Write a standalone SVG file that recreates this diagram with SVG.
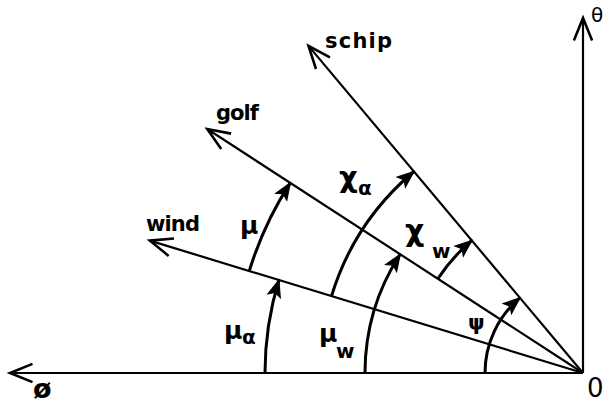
<svg xmlns="http://www.w3.org/2000/svg" width="604" height="403" viewBox="0 0 604 403">
<style>
.ax{stroke:#000;stroke-width:2.2;fill:none}
.arc{stroke:#000;stroke-width:3;fill:none}
text{font-family:"DejaVu Sans","Liberation Sans",sans-serif;fill:#000;font-weight:bold}
.thin{font-weight:normal}
.lbl{font-size:21px}
.gr{font-size:25px}
.sub{font-size:20px}
</style>
<defs>
<marker id="open" markerUnits="userSpaceOnUse" markerWidth="30" markerHeight="30" viewBox="-24 -12 28 24" refX="0" refY="0" orient="auto">
<path d="M-21,-8.5 L0,0 L-21,8.5" fill="none" stroke="#000" stroke-width="2.4"/>
</marker>
<marker id="solid" markerUnits="userSpaceOnUse" markerWidth="20" markerHeight="20" viewBox="-15 -8 17 16" refX="0" refY="0" orient="auto">
<path d="M-14,-5.5 L0,0 L-14,5.5 L-11,0 Z" fill="#000" stroke="#000" stroke-width="1"/>
</marker>
</defs>
<rect width="604" height="403" fill="#fff"/>
<g id="connectors">
<line id="axis-phi" class="ax" x1="583" y1="373" x2="10" y2="373" marker-end="url(#open)"/>
<line id="axis-theta" class="ax" x1="583" y1="373" x2="583" y2="18" marker-end="url(#open)"/>
<line id="wind-line" class="ax" x1="583" y1="373" x2="149.8" y2="240.6" marker-end="url(#open)"/>
<line id="golf-line" class="ax" x1="583" y1="373" x2="207.3" y2="129" marker-end="url(#open)"/>
<line id="schip-line" class="ax" x1="583" y1="373" x2="308.5" y2="45.9" marker-end="url(#open)"/>
<path id="arc-psi" class="arc" d="M485,373 A98,98 0 0 1 520,297.9" marker-end="url(#solid)"/>
<path id="arc-muw" class="arc" d="M365,373 A218,218 0 0 1 400.2,254.3" marker-end="url(#solid)"/>
<path id="arc-mua" class="arc" d="M265,373 A318,318 0 0 1 278.9,280" marker-end="url(#solid)"/>
<path id="arc-chiw" class="arc" d="M437.9,278.8 A173,173 0 0 1 471.8,240.5" marker-end="url(#solid)"/>
<path id="arc-chia" class="arc" d="M331.5,296.1 A263,263 0 0 1 413.9,171.5" marker-end="url(#solid)"/>
<path id="arc-mu" class="arc" d="M249.3,271 A349,349 0 0 1 290.3,182.9" marker-end="url(#solid)"/>
</g>
<g id="label-schip"><text class="lbl" x="325" y="48" textLength="67" lengthAdjust="spacing">schip</text></g>
<g id="label-golf"><text class="lbl" x="216" y="120" textLength="43" lengthAdjust="spacing">golf</text></g>
<g id="label-wind"><text class="lbl" x="146" y="231" textLength="54" lengthAdjust="spacing">wind</text></g>
<g id="label-theta"><text class="thin" x="591" y="22" font-size="20">θ</text></g>
<g id="label-phi"><text x="33" y="398" font-size="27">ø</text></g>
<g id="label-origin"><text class="thin" x="587" y="397" font-size="26">0</text></g>
<g id="label-mu"><text class="gr" x="240" y="234">μ</text></g>
<g id="label-mua"><text class="gr" x="224" y="339">μ</text><text class="sub" x="242" y="344">α</text></g>
<g id="label-muw"><text class="gr" x="319" y="342">μ</text><text class="sub" x="336" y="358">w</text></g>
<g id="label-psi"><text x="468" y="330" font-size="21">ψ</text></g>
<g id="label-chia"><text x="339" y="187" font-size="29">χ</text><text class="sub" x="358" y="195">α</text></g>
<g id="label-chiw"><text x="405" y="241" font-size="30">χ</text><text class="sub" x="432" y="258">w</text></g>
</svg>
